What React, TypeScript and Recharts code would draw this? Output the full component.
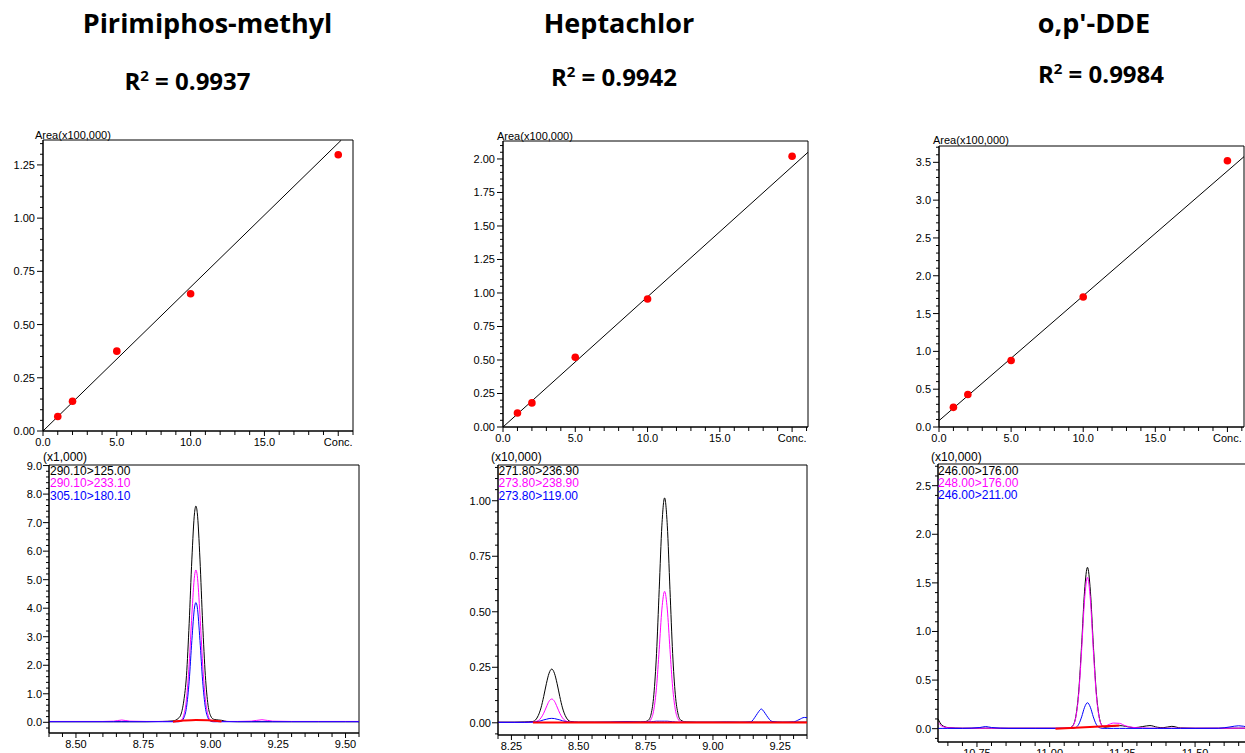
import { ComposedChart, LineChart, Line, Scatter, XAxis, YAxis, ReferenceArea } from 'recharts'

const FONT = '"Liberation Sans", Arial, sans-serif'
const TITLE_FONT = '"Open Sans", "Noto Sans", sans-serif'

// calibration curves (Area x100,000 vs Conc.)
const concLevels = [1, 2, 5, 10, 20]
const pirimiphosArea = [0.068, 0.14, 0.375, 0.645, 1.298]
const heptachlorArea = [0.105, 0.18, 0.52, 0.955, 2.02]
const ddeArea = [0.26, 0.43, 0.88, 1.72, 3.52]

// regression line ends
const pirimiphosFitX = [0, 20.2]
const pirimiphosFitY = [0, 1.366]
const heptachlorFitX = [0, 21.1]
const heptachlorFitY = [0, 2.05]
const ddeFitX = [0, 21.15]
const ddeFitY = [0.084, 3.575]

// tick labels
const calibXMajors = [0, 5, 10, 15, 20]
const pirimiphosYMajors = [0, 0.25, 0.5, 0.75, 1.0, 1.25]
const heptachlorYMajors = [0, 0.25, 0.5, 0.75, 1.0, 1.25, 1.5, 1.75, 2.0]
const ddeYMajors = [0, 0.5, 1.0, 1.5, 2.0, 2.5, 3.0, 3.5]
const c1XMajors = [8.5, 8.75, 9.0, 9.25, 9.5]
const c2XMajors = [8.25, 8.5, 8.75, 9.0, 9.25]
const c3XMajors = [10.75, 11.0, 11.25, 11.5]
const c1YMajors = [0, 1, 2, 3, 4, 5, 6, 7, 8, 9]
const c2YMajors = [0, 0.25, 0.5, 0.75, 1.0]
const c3YMajors = [0, 0.5, 1.0, 1.5, 2.0, 2.5]

// chromatogram 1: Pirimiphos-methyl (x1,000)
const c1Time = [8.40, 8.50, 8.60, 8.64, 8.67, 8.70, 8.76, 8.82, 8.86, 8.88, 8.89, 8.90, 8.91, 8.92, 8.93, 8.94, 8.945, 8.95, 8.96, 8.97, 8.98, 8.99, 9.00, 9.01, 9.02, 9.04, 9.06, 9.10, 9.15, 9.19, 9.23, 9.30, 9.40, 9.50, 9.55]
const c1Black = [0.02, 0.02, 0.02, 0.02, 0.02, 0.02, 0.02, 0.03, 0.05, 0.14, 0.29, 0.75, 1.64, 3.47, 5.72, 7.35, 7.58, 7.35, 5.72, 3.47, 1.64, 0.6, 0.22, 0.11, 0.09, 0.07, 0.03, 0.02, 0.02, 0.02, 0.02, 0.02, 0.02, 0.02, 0.02]
const c1Magenta = [0.03, 0.03, 0.03, 0.04, 0.08, 0.04, 0.03, 0.03, 0.03, 0.04, 0.07, 0.25, 0.82, 2.04, 3.77, 5.14, 5.34, 5.14, 3.77, 2.04, 0.82, 0.25, 0.07, 0.04, 0.03, 0.03, 0.03, 0.03, 0.04, 0.09, 0.04, 0.03, 0.03, 0.03, 0.03]
const c1Blue = [0.02, 0.02, 0.02, 0.02, 0.02, 0.02, 0.02, 0.02, 0.02, 0.02, 0.04, 0.15, 0.52, 1.44, 2.87, 4.04, 4.2, 4.04, 2.87, 1.44, 0.52, 0.15, 0.04, 0.02, 0.02, 0.02, 0.02, 0.02, 0.02, 0.02, 0.02, 0.02, 0.02, 0.02, 0.02]
const c1Red = [null, null, null, null, null, null, null, null, 0.02, null, null, 0.06, null, null, null, null, 0.085, null, null, null, null, 0.075, null, null, null, 0.03, null, null, null, null, null, null, null, null, null]

// chromatogram 2: Heptachlor (x10,000)
const c2Time = [8.20, 8.26, 8.30, 8.33, 8.35, 8.36, 8.37, 8.38, 8.39, 8.40, 8.41, 8.42, 8.43, 8.44, 8.45, 8.47, 8.50, 8.56, 8.62, 8.68, 8.73, 8.75, 8.76, 8.77, 8.78, 8.79, 8.80, 8.81, 8.82, 8.83, 8.84, 8.85, 8.86, 8.87, 8.88, 8.90, 8.94, 9.00, 9.05, 9.10, 9.14, 9.16, 9.17, 9.18, 9.19, 9.20, 9.22, 9.26, 9.30, 9.32, 9.34, 9.35]
const c2Black = [0.003, 0.003, 0.004, 0.006, 0.033, 0.067, 0.118, 0.176, 0.223, 0.242, 0.223, 0.176, 0.118, 0.067, 0.033, 0.006, 0.003, 0.003, 0.003, 0.004, 0.004, 0.006, 0.012, 0.04, 0.126, 0.312, 0.601, 0.89, 1.013, 0.89, 0.601, 0.312, 0.126, 0.04, 0.012, 0.004, 0.003, 0.003, 0.003, 0.003, 0.003, 0.003, 0.003, 0.003, 0.003, 0.003, 0.003, 0.003, 0.003, 0.003, 0.003, 0.003]
const c2Magenta = [0.002, 0.002, 0.002, 0.003, 0.01, 0.022, 0.043, 0.071, 0.097, 0.107, 0.097, 0.071, 0.043, 0.022, 0.01, 0.003, 0.002, 0.002, 0.002, 0.002, 0.002, 0.003, 0.005, 0.017, 0.059, 0.16, 0.331, 0.512, 0.592, 0.512, 0.331, 0.16, 0.059, 0.017, 0.005, 0.002, 0.002, 0.002, 0.002, 0.002, 0.002, 0.002, 0.002, 0.002, 0.002, 0.002, 0.002, 0.002, 0.002, 0.002, 0.002, 0.002]
const c2Blue = [0.002, 0.002, 0.002, 0.003, 0.006, 0.009, 0.013, 0.016, 0.019, 0.02, 0.019, 0.016, 0.013, 0.009, 0.006, 0.003, 0.002, 0.002, 0.003, 0.005, 0.003, 0.003, 0.004, 0.005, 0.006, 0.007, 0.007, 0.007, 0.007, 0.007, 0.006, 0.005, 0.004, 0.003, 0.002, 0.002, 0.002, 0.002, 0.003, 0.002, 0.004, 0.032, 0.05, 0.062, 0.05, 0.032, 0.006, 0.002, 0.004, 0.014, 0.024, 0.023]
const c2Red = [null, null, null, 0.001, null, null, null, null, null, null, null, null, null, null, null, null, null, null, null, null, null, null, null, null, null, null, null, null, null, null, null, null, null, null, null, null, null, null, null, null, null, null, null, null, null, null, null, null, null, null, null, 0.001]

// chromatogram 3: o,p'-DDE (x10,000)
const c3Time = [10.616, 10.63, 10.65, 10.70, 10.76, 10.78, 10.80, 10.86, 10.95, 11.02, 11.05, 11.07, 11.08, 11.09, 11.10, 11.11, 11.12, 11.13, 11.14, 11.15, 11.16, 11.17, 11.18, 11.19, 11.20, 11.22, 11.24, 11.26, 11.29, 11.32, 11.345, 11.37, 11.39, 11.42, 11.45, 11.50, 11.58, 11.62, 11.65, 11.682]
const c3Black = [0.1, 0.035, 0.012, 0.005, 0.005, 0.005, 0.005, 0.005, 0.005, 0.005, 0.005, 0.01, 0.033, 0.127, 0.387, 0.869, 1.415, 1.66, 1.415, 0.869, 0.387, 0.127, 0.033, 0.015, 0.018, 0.025, 0.032, 0.025, 0.01, 0.022, 0.032, 0.015, 0.01, 0.024, 0.008, 0.005, 0.005, 0.005, 0.005, 0.005]
const c3Magenta = [0.065, 0.025, 0.01, 0.005, 0.005, 0.005, 0.005, 0.005, 0.005, 0.005, 0.005, 0.009, 0.03, 0.118, 0.362, 0.814, 1.325, 1.557, 1.325, 0.814, 0.362, 0.118, 0.035, 0.025, 0.038, 0.058, 0.055, 0.03, 0.012, 0.008, 0.005, 0.005, 0.005, 0.005, 0.005, 0.005, 0.005, 0.005, 0.005, 0.005]
const c3Blue = [0.003, 0.003, 0.003, 0.003, 0.012, 0.022, 0.012, 0.003, 0.003, 0.003, 0.003, 0.003, 0.004, 0.012, 0.046, 0.122, 0.22, 0.267, 0.22, 0.122, 0.046, 0.012, 0.004, 0.003, 0.003, 0.003, 0.003, 0.003, 0.003, 0.003, 0.003, 0.003, 0.003, 0.003, 0.003, 0.003, 0.004, 0.018, 0.03, 0.015]
const c3Red = [null, null, null, null, null, null, null, null, null, 0.0, null, null, null, null, null, null, null, null, null, null, null, null, null, null, null, null, 0.032, null, null, null, null, null, null, null, null, null, null, null, null, null]

const YW = 50
const MT = 20
const XH = 30
const MR = 10

type Plot = { left: number; top: number; w: number; h: number }

function steps(a: number, b: number, s: number) {
  const out: number[] = []
  for (let i = Math.ceil(a / s - 1e-6); i * s <= b + 1e-9; i++) out.push(+(i * s).toFixed(4))
  return out
}

const isIn = (arr: number[], v: number) => arr.some((m) => Math.abs(m - v) < 1e-6)

function yTick(majors: number[], digits: number, gap: number) {
  return (p: any) => {
    const v = p.payload.value
    const major = isIn(majors, v)
    return (
      <g>
        <line x1={p.x} y1={p.y} x2={p.x - (major ? 6 : 3)} y2={p.y} stroke="#000" />
        {major && (
          <text x={p.x - gap} y={p.y} dy={4} textAnchor="end" fontSize={11} fontFamily={FONT} fill="#000">
            {v.toFixed(digits)}
          </text>
        )}
      </g>
    )
  }
}

function xTick(label: (v: number) => string | null, majors: number[]) {
  return (p: any) => {
    const v = p.payload.value
    const text = label(v)
    return (
      <g>
        <line x1={p.x} y1={p.y} x2={p.x} y2={p.y + (isIn(majors, v) ? 5 : 4)} stroke="#000" />
        {text && (
          <text x={p.x} y={p.y + 15} textAnchor="middle" fontSize={11} fontFamily={FONT} fill="#000">
            {text}
          </text>
        )}
      </g>
    )
  }
}

function frameStyle(plot: Plot): React.CSSProperties {
  return { position: 'absolute', left: plot.left - YW, top: plot.top - MT }
}

function CalibChart({ plot, xMax, yMax, yMajors, yMinor, yDigits, area, fitX, fitY }: {
  plot: Plot; xMax: number; yMax: number; yMajors: number[]; yMinor: number; yDigits: number
  area: number[]; fitX: number[]; fitY: number[]
}) {
  const points = concLevels.map((x, i) => ({ x, y: area[i] }))
  const fit = fitX.map((x, i) => ({ x, y: fitY[i] }))
  const calibLabel = (v: number) => (v === 20 ? 'Conc.' : isIn(calibXMajors, v) ? v.toFixed(1) : null)
  return (
    <div style={frameStyle(plot)}>
      <ComposedChart width={plot.w + YW + MR} height={plot.h + MT + XH} margin={{ top: MT, right: MR, bottom: 0, left: 0 }}>
        <XAxis type="number" dataKey="x" domain={[0, xMax]} allowDataOverflow ticks={steps(0, xMax, 1)} interval={0}
          height={XH} tickLine={false} tickSize={0} tickMargin={0} axisLine={{ stroke: '#000' }}
          tick={xTick(calibLabel, calibXMajors)} />
        <YAxis type="number" dataKey="y" domain={[0, yMax]} allowDataOverflow ticks={steps(0, yMax, yMinor)} interval={0}
          width={YW} tickLine={false} tickSize={0} tickMargin={0} axisLine={{ stroke: '#000' }}
          tick={yTick(yMajors, yDigits, 8)} />
        <ReferenceArea x1={0} x2={xMax} y1={0} y2={yMax} fill="none" stroke="#000" strokeWidth={1} ifOverflow="visible" />
        <Line data={fit} dataKey="y" type="linear" stroke="#000" strokeWidth={1} dot={false} isAnimationActive={false} />
        <Scatter data={points} dataKey="y" isAnimationActive={false}
          shape={(p: any) => <circle cx={p.cx} cy={p.cy} r={3.8} fill="#ff0000" />} />
      </ComposedChart>
    </div>
  )
}

function Chromatogram({ plot, xDomain, yDomain, xMajors, yMajors, yMinor, yDigits, time, black, magenta, blue, red }: {
  plot: Plot; xDomain: [number, number]; yDomain: [number, number]; xMajors: number[]; yMajors: number[]
  yMinor: number; yDigits: number; time: number[]; black: number[]; magenta: number[]; blue: number[]; red: (number | null)[]
}) {
  const rows = time.map((t, i) => ({ t, black: black[i], magenta: magenta[i], blue: blue[i], red: red[i] }))
  const chromLabel = (v: number) => (isIn(xMajors, v) ? v.toFixed(2) : null)
  return (
    <div style={frameStyle(plot)}>
      <LineChart width={plot.w + YW + MR} height={plot.h + MT + XH} data={rows} margin={{ top: MT, right: MR, bottom: 0, left: 0 }}>
        <XAxis type="number" dataKey="t" domain={xDomain} allowDataOverflow ticks={steps(xDomain[0], xDomain[1], 0.05)} interval={0}
          height={XH} tickLine={false} tickSize={0} tickMargin={0} axisLine={{ stroke: '#000' }}
          tick={xTick(chromLabel, xMajors)} />
        <YAxis type="number" domain={yDomain} allowDataOverflow ticks={steps(yDomain[0], yDomain[1], yMinor)} interval={0}
          width={YW} tickLine={false} tickSize={0} tickMargin={0} axisLine={{ stroke: '#000' }}
          tick={yTick(yMajors, yDigits, 7)} />
        <ReferenceArea x1={xDomain[0]} x2={xDomain[1]} y1={yDomain[0]} y2={yDomain[1]} fill="none" stroke="#000" strokeWidth={1} ifOverflow="visible" />
        <Line dataKey="black" type="monotone" stroke="#000000" strokeWidth={1} dot={false} isAnimationActive={false} />
        <Line dataKey="magenta" type="monotone" stroke="#ff00ff" strokeWidth={1} dot={false} isAnimationActive={false} />
        <Line dataKey="blue" type="monotone" stroke="#0000ff" strokeWidth={1} dot={false} isAnimationActive={false} />
        <Line dataKey="red" type="monotone" connectNulls stroke="#ff0000" strokeWidth={2} dot={false} isAnimationActive={false} />
      </LineChart>
    </div>
  )
}

function Legend3({ x, y, labels }: { x: number; y: number; labels: string[] }) {
  const colors = ['#000000', '#ff00ff', '#0000ff']
  return (
    <>
      {labels.map((l, i) => (
        <text key={l + i} x={x} y={y + i * 12.3} fontSize={12} fontFamily={FONT} fill={colors[i]}>{l}</text>
      ))}
    </>
  )
}

function Title({ x, y, text }: { x: number; y: number; text: string }) {
  return (
    <text x={x} y={y} textAnchor="middle" fontSize={27} fontWeight={700} fontFamily={TITLE_FONT} fill="#000">{text}</text>
  )
}

function RSquared({ x, y, value }: { x: number; y: number; value: string }) {
  return (
    <text x={x} y={y} textAnchor="middle" fontSize={24} fontWeight={700} fontFamily={TITLE_FONT} fill="#000">
      R<tspan fontSize={15} dy={-9}>2</tspan><tspan dy={9}>{` = ${value}`}</tspan>
    </text>
  )
}

export default function App() {
  return (
    <div style={{ position: 'absolute', left: 0, top: 0, width: 1245, height: 753, overflow: 'hidden', background: '#fff' }}>
      <CalibChart plot={{ left: 43, top: 140, w: 310, h: 291 }} xMax={21} yMax={1.367} yMajors={pirimiphosYMajors} yMinor={0.05} yDigits={2}
        area={pirimiphosArea} fitX={pirimiphosFitX} fitY={pirimiphosFitY} />
      <CalibChart plot={{ left: 503, top: 141, w: 305, h: 286 }} xMax={21.1} yMax={2.134} yMajors={heptachlorYMajors} yMinor={0.05} yDigits={2}
        area={heptachlorArea} fitX={heptachlorFitX} fitY={heptachlorFitY} />
      <CalibChart plot={{ left: 939, top: 146, w: 305, h: 281 }} xMax={21.15} yMax={3.716} yMajors={ddeYMajors} yMinor={0.1} yDigits={1}
        area={ddeArea} fitX={ddeFitX} fitY={ddeFitY} />

      <Chromatogram plot={{ left: 49, top: 465, w: 310, h: 268 }} xDomain={[8.4, 9.55]} yDomain={[-0.375, 9.02]}
        xMajors={c1XMajors} yMajors={c1YMajors} yMinor={0.2} yDigits={1}
        time={c1Time} black={c1Black} magenta={c1Magenta} blue={c1Blue} red={c1Red} />
      <Chromatogram plot={{ left: 498, top: 465, w: 309, h: 270 }} xDomain={[8.2, 9.35]} yDomain={[-0.055, 1.161]}
        xMajors={c2XMajors} yMajors={c2YMajors} yMinor={0.05} yDigits={2}
        time={c2Time} black={c2Black} magenta={c2Magenta} blue={c2Blue} red={c2Red} />
      <Chromatogram plot={{ left: 938, top: 464, w: 310, h: 278 }} xDomain={[10.616, 11.682]} yDomain={[-0.137, 2.723]}
        xMajors={c3XMajors} yMajors={c3YMajors} yMinor={0.1} yDigits={1}
        time={c3Time} black={c3Black} magenta={c3Magenta} blue={c3Blue} red={c3Red} />

      <svg width={1245} height={753} style={{ position: 'absolute', left: 0, top: 0, pointerEvents: 'none' }}>
        <Title x={207.5} y={33.3} text="Pirimiphos-methyl" />
        <Title x={619} y={33.3} text="Heptachlor" />
        <Title x={1094} y={33.3} text="o,p'-DDE" />
        <RSquared x={187.5} y={90} value="0.9937" />
        <RSquared x={614} y={86} value="0.9942" />
        <RSquared x={1101} y={83.3} value="0.9984" />

        <text x={35} y={138.5} fontSize={11} fontFamily={FONT} fill="#000">Area(x100,000)</text>
        <text x={497} y={140} fontSize={11} fontFamily={FONT} fill="#000">Area(x100,000)</text>
        <text x={933} y={143.5} fontSize={11} fontFamily={FONT} fill="#000">Area(x100,000)</text>

        <text x={43} y={461} fontSize={12} fontFamily={FONT} fill="#000">(x1,000)</text>
        <text x={491} y={461} fontSize={12} fontFamily={FONT} fill="#000">(x10,000)</text>
        <text x={931} y={460.5} fontSize={12} fontFamily={FONT} fill="#000">(x10,000)</text>

        <Legend3 x={50} y={475} labels={['290.10>125.00', '290.10>233.10', '305.10>180.10']} />
        <Legend3 x={498.5} y={475} labels={['271.80>236.90', '273.80>238.90', '273.80>119.00']} />
        <Legend3 x={938} y={474.5} labels={['246.00>176.00', '248.00>176.00', '246.00>211.00']} />
      </svg>
    </div>
  )
}
